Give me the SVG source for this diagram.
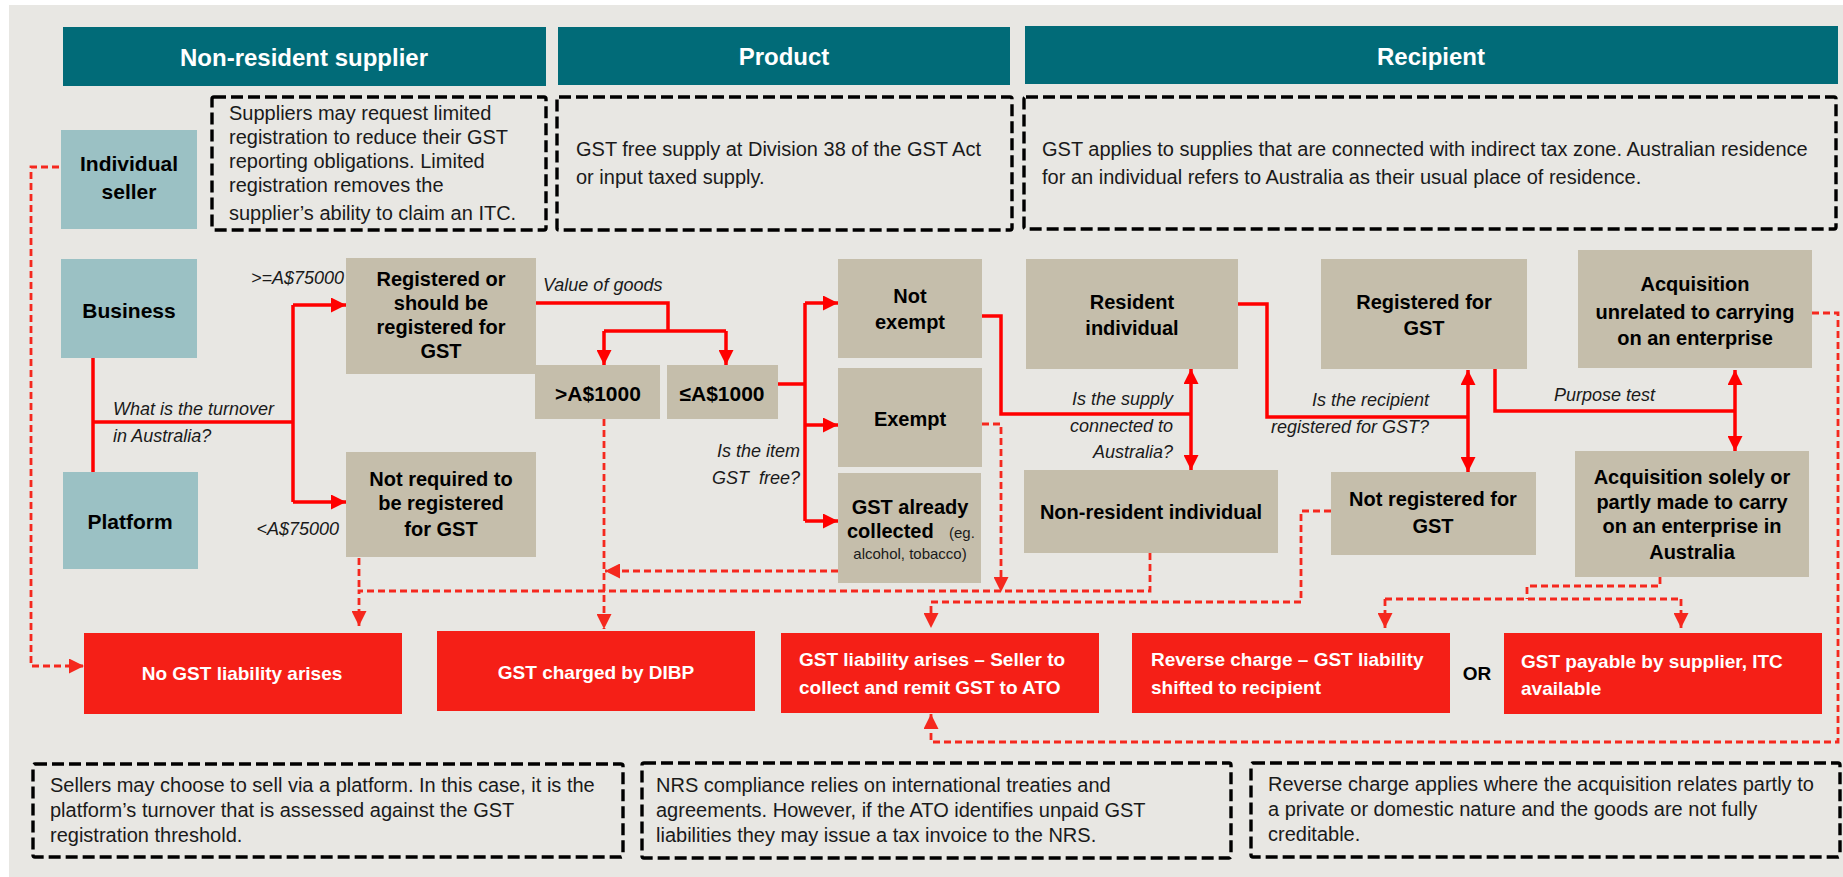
<svg xmlns="http://www.w3.org/2000/svg" width="1843" height="877" viewBox="0 0 1843 877">
<style>
text{font-family:"Liberation Sans",Arial,sans-serif;}
.hdr{fill:#016b78;}
.ht{fill:#fff;font-weight:bold;font-size:24px;text-anchor:middle;}
.note{fill:none;stroke:#000;stroke-width:3.4;stroke-dasharray:12 5;}
.nt{fill:#1a1a1a;font-size:20px;}
.blue{fill:#9bc1c4;}
.tan{fill:#c5beab;}
.out{fill:#f51f17;}
.bl{fill:#000;font-weight:bold;font-size:21px;text-anchor:middle;}
.tl{fill:#000;font-weight:bold;font-size:20px;text-anchor:middle;}
.ot{fill:#fff;font-weight:bold;font-size:19px;}
.it{fill:#1a1a1a;font-style:italic;font-size:18px;}
.e{text-anchor:end;}
.sol{fill:none;stroke:#ff0000;stroke-width:3.5;}
.dsh{fill:none;stroke:#f5281e;stroke-width:2.8;stroke-dasharray:7 4;}
</style>
<defs>
<marker id="ah" viewBox="0 0 15 15" refX="15" refY="7.5" markerWidth="15" markerHeight="15" markerUnits="userSpaceOnUse" orient="auto-start-reverse">
<path d="M0,0 L15,7.5 L0,15 z" fill="#ff0000"/>
</marker>
<marker id="ahd" viewBox="0 0 15 15" refX="15" refY="7.5" markerWidth="15" markerHeight="15" markerUnits="userSpaceOnUse" orient="auto-start-reverse">
<path d="M0,0 L15,7.5 L0,15 z" fill="#f5281e"/>
</marker>
</defs>
<rect x="0" y="0" width="1843" height="877" fill="#ffffff"/>
<rect x="9" y="5" width="1834" height="872" fill="#e8e7e3"/>

<g id="header-supplier"><rect class="hdr" x="63" y="27" width="483" height="59"/><text class="ht" x="304" y="66">Non-resident supplier</text></g>
<g id="header-product"><rect class="hdr" x="558" y="27" width="452" height="58"/><text class="ht" x="784" y="65">Product</text></g>
<g id="header-recipient"><rect class="hdr" x="1025" y="26" width="813" height="58"/><text class="ht" x="1431" y="65">Recipient</text></g>

<g id="note-supplier"><rect class="note" x="212" y="97" width="334" height="133" rx="2"/>
<text class="nt" x="229" y="120">Suppliers may request limited</text>
<text class="nt" x="229" y="144">registration to reduce their GST</text>
<text class="nt" x="229" y="168">reporting obligations. Limited</text>
<text class="nt" x="229" y="192">registration removes the</text>
<text class="nt" x="229" y="220">supplier’s ability to claim an ITC.</text></g>
<g id="note-product"><rect class="note" x="557" y="97" width="455" height="133" rx="2"/>
<text class="nt" x="576" y="156">GST free supply at Division 38 of the GST Act</text>
<text class="nt" x="576" y="184">or input taxed supply.</text></g>
<g id="note-recipient"><rect class="note" x="1024" y="97" width="812" height="132" rx="2"/>
<text class="nt" x="1042" y="156">GST applies to supplies that are connected with indirect tax zone. Australian residence</text>
<text class="nt" x="1042" y="184">for an individual refers to Australia as their usual place of residence.</text></g>

<g id="note-platform"><rect class="note" x="33" y="764" width="590" height="93" rx="2"/>
<text class="nt" x="50" y="792">Sellers may choose to sell via a platform. In this case, it is the</text>
<text class="nt" x="50" y="817">platform’s turnover that is assessed against the GST</text>
<text class="nt" x="50" y="842">registration threshold.</text></g>
<g id="note-nrs"><rect class="note" x="642" y="763" width="589" height="95" rx="2"/>
<text class="nt" x="656" y="792">NRS compliance relies on international treaties and</text>
<text class="nt" x="656" y="817">agreements. However, if the ATO identifies unpaid GST</text>
<text class="nt" x="656" y="842">liabilities they may issue a tax invoice to the NRS.</text></g>
<g id="note-reverse"><rect class="note" x="1251" y="763" width="589" height="94" rx="2"/>
<text class="nt" x="1268" y="791">Reverse charge applies where the acquisition relates partly to</text>
<text class="nt" x="1268" y="816">a private or domestic nature and the goods are not fully</text>
<text class="nt" x="1268" y="841">creditable.</text></g>

<g id="individual-seller"><rect class="blue" x="61" y="130" width="136" height="99"/><text class="bl" x="129" y="171">Individual</text><text class="bl" x="129" y="199">seller</text></g>
<g id="business"><rect class="blue" x="61" y="259" width="136" height="99"/><text class="bl" x="129" y="318">Business</text></g>
<g id="platform"><rect class="blue" x="63" y="472" width="135" height="97"/><text class="bl" x="130" y="529">Platform</text></g>

<g id="registered"><rect class="tan" x="346" y="258" width="190" height="116"/>
<text class="tl" x="441" y="286">Registered or</text><text class="tl" x="441" y="310">should be</text><text class="tl" x="441" y="334">registered for</text><text class="tl" x="441" y="358">GST</text></g>
<g id="not-required"><rect class="tan" x="346" y="452" width="190" height="105"/>
<text class="tl" x="441" y="486">Not required to</text><text class="tl" x="441" y="510">be registered</text><text class="tl" x="441" y="536">for GST</text></g>
<g id="over-1000"><rect class="tan" x="535" y="365" width="125" height="54"/><text class="bl" x="598" y="401">&gt;A$1000</text></g>
<g id="under-1000"><rect class="tan" x="667" y="365" width="111" height="54"/><text class="bl" x="722" y="401">≤A$1000</text></g>
<g id="not-exempt"><rect class="tan" x="838" y="259" width="144" height="99"/><text class="tl" x="910" y="303">Not</text><text class="tl" x="910" y="329">exempt</text></g>
<g id="exempt"><rect class="tan" x="838" y="368" width="144" height="99"/><text class="tl" x="910" y="426">Exempt</text></g>
<g id="gst-collected"><rect class="tan" x="838" y="473" width="143" height="110"/>
<text class="tl" x="910" y="514">GST already</text>
<text class="tl" x="847" y="538" style="text-anchor:start">collected</text>
<text x="949" y="538" style="font-size:15px;fill:#1a1a1a">(eg.</text>
<text x="910" y="559" style="font-size:15px;fill:#1a1a1a;text-anchor:middle">alcohol, tobacco)</text></g>
<g id="resident"><rect class="tan" x="1026" y="259" width="212" height="110"/><text class="tl" x="1132" y="309">Resident</text><text class="tl" x="1132" y="335">individual</text></g>
<g id="non-resident"><rect class="tan" x="1024" y="470" width="254" height="83"/><text class="tl" x="1151" y="519">Non-resident individual</text></g>
<g id="registered-gst"><rect class="tan" x="1321" y="259" width="206" height="110"/><text class="tl" x="1424" y="309">Registered for</text><text class="tl" x="1424" y="335">GST</text></g>
<g id="not-registered"><rect class="tan" x="1331" y="472" width="205" height="83"/><text class="tl" x="1433" y="506">Not registered for</text><text class="tl" x="1433" y="533">GST</text></g>
<g id="acq-unrelated"><rect class="tan" x="1578" y="250" width="234" height="118"/>
<text class="tl" x="1695" y="291">Acquisition</text><text class="tl" x="1695" y="319">unrelated to carrying</text><text class="tl" x="1695" y="345">on an enterprise</text></g>
<g id="acq-enterprise"><rect class="tan" x="1575" y="451" width="234" height="126"/>
<text class="tl" x="1692" y="484">Acquisition solely or</text><text class="tl" x="1692" y="509">partly made to carry</text><text class="tl" x="1692" y="533">on an enterprise in</text><text class="tl" x="1692" y="559">Australia</text></g>

<g id="no-liability"><rect class="out" x="84" y="633" width="318" height="81"/><text class="ot" x="242" y="680" text-anchor="middle">No GST liability arises</text></g>
<g id="dibp"><rect class="out" x="437" y="631" width="318" height="80"/><text class="ot" x="596" y="679" text-anchor="middle">GST charged by DIBP</text></g>
<g id="seller-collect"><rect class="out" x="781" y="633" width="318" height="80"/><text class="ot" x="799" y="666">GST liability arises – Seller to</text><text class="ot" x="799" y="694">collect and remit GST to ATO</text></g>
<g id="reverse-charge"><rect class="out" x="1132" y="633" width="318" height="80"/><text class="ot" x="1151" y="666">Reverse charge – GST liability</text><text class="ot" x="1151" y="694">shifted to recipient</text></g>
<g id="or-label"><text x="1477" y="680" style="font-size:19px;font-weight:bold;fill:#000;text-anchor:middle">OR</text></g>
<g id="supplier-payable"><rect class="out" x="1504" y="633" width="318" height="81"/><text class="ot" x="1521" y="668">GST payable by supplier, ITC</text><text class="ot" x="1521" y="695">available</text></g>

<g id="connectors">
<path class="sol" d="M93,358 V472"/>
<path class="sol" d="M93,422 H293"/>
<path class="sol" d="M293,305 V502"/>
<path class="sol" d="M293,305 H346" marker-end="url(#ah)"/>
<path class="sol" d="M293,502 H346" marker-end="url(#ah)"/>
<path class="sol" d="M536,303 H668 V331"/>
<path class="sol" d="M604,331 H726"/>
<path class="sol" d="M604,331 V365" marker-end="url(#ah)"/>
<path class="sol" d="M726,331 V365" marker-end="url(#ah)"/>
<path class="sol" d="M778,384 H805"/>
<path class="sol" d="M805,303 V521"/>
<path class="sol" d="M805,303 H838" marker-end="url(#ah)"/>
<path class="sol" d="M805,425 H838" marker-end="url(#ah)"/>
<path class="sol" d="M805,521 H838" marker-end="url(#ah)"/>
<path class="sol" d="M982,316 H1001 V414 H1191"/>
<path class="sol" d="M1191,369 V470" marker-start="url(#ah)" marker-end="url(#ah)"/>
<path class="sol" d="M1238,304 H1267 V417 H1468"/>
<path class="sol" d="M1468,370 V472" marker-start="url(#ah)" marker-end="url(#ah)"/>
<path class="sol" d="M1495,369 V411 H1735"/>
<path class="sol" d="M1735,370 V451" marker-start="url(#ah)" marker-end="url(#ah)"/>

<path class="dsh" d="M59,167 H31 V666 H84" marker-end="url(#ahd)"/>
<path class="dsh" d="M1150,553 V591 H359 V626" marker-end="url(#ahd)"/>
<path class="dsh" d="M359,558 V591"/>
<path class="dsh" d="M604,419 V629" marker-end="url(#ahd)"/>
<path class="dsh" d="M838,571 H605" marker-end="url(#ahd)"/>
<path class="dsh" d="M982,424 H1001 V592" marker-end="url(#ahd)"/>
<path class="dsh" d="M1331,511 H1301 V602 H931 V628" marker-end="url(#ahd)"/>
<path class="dsh" d="M1660,577 V586 H1527 V599"/>
<path class="dsh" d="M1385,599 H1681"/>
<path class="dsh" d="M1385,599 V628" marker-end="url(#ahd)"/>
<path class="dsh" d="M1681,599 V628" marker-end="url(#ahd)"/>
<path class="dsh" d="M1812,313 H1838 V742 H931 V714" marker-end="url(#ahd)"/>
</g>

<g id="labels">
<text class="it e" x="344" y="284">&gt;=A$75000</text>
<text class="it e" x="339" y="535">&lt;A$75000</text>
<text class="it" x="113" y="415">What is the turnover</text>
<text class="it" x="113" y="442">in Australia?</text>
<text class="it" x="543" y="291">Value of goods</text>
<text class="it e" x="800" y="457">Is the item</text>
<text class="it e" x="800" y="484" xml:space="preserve">GST  free?</text>
<text class="it e" x="1173" y="405">Is the supply</text>
<text class="it e" x="1173" y="432">connected to</text>
<text class="it e" x="1173" y="458">Australia?</text>
<text class="it e" x="1429" y="406">Is the recipient</text>
<text class="it e" x="1429" y="433">registered for GST?</text>
<text class="it" x="1554" y="401">Purpose test</text>
</g>
</svg>
